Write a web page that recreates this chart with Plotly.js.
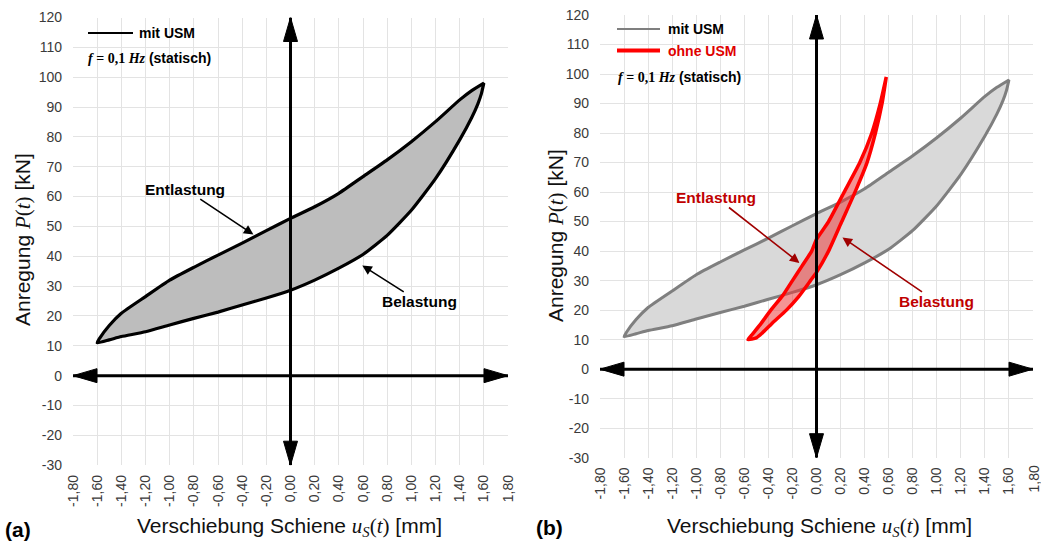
<!DOCTYPE html>
<html>
<head>
<meta charset="utf-8">
<script src="https://cdn.plot.ly/plotly-3.0.1.min.js"></script>
<style>
html,body{margin:0;padding:0;background:#fff;}
#chart{width:1041px;height:542px;}
</style>
</head>
<body>
<div id="chart"></div>
<script>
// ---- Data ----
// "mit USM" hysteresis loop: loading branch (Belastung) and unloading branch (Entlastung)
const usmLoadX   = [-1.60, -1.50, -1.40, -1.20, -1.00, -0.80, -0.60, -0.40, -0.20, 0.00, 0.20, 0.40, 0.60, 0.80, 1.00, 1.20, 1.40, 1.50, 1.55, 1.58, 1.60];
const usmLoadY   = [11.0, 12.0, 13.1, 14.7, 17.0, 19.2, 21.3, 23.7, 26.0, 28.6, 32.0, 36.0, 40.6, 47.0, 55.4, 66.0, 79.0, 86.5, 91.0, 94.5, 98.0];
const usmUnloadX = [1.60, 1.50, 1.40, 1.20, 1.00, 0.80, 0.60, 0.40, 0.20, 0.00, -0.20, -0.40, -0.60, -0.80, -1.00, -1.20, -1.40, -1.50, -1.58, -1.60];
const usmUnloadY = [98.0, 95.5, 92.4, 85.1, 78.4, 72.3, 66.7, 61.1, 56.6, 52.7, 48.6, 44.4, 40.4, 36.3, 32.0, 26.5, 20.9, 16.8, 12.5, 11.0];

// "ohne USM" hysteresis loop
const noUsmLoadX   = [-0.57, -0.50, -0.45, -0.37, -0.25, -0.15, -0.05, 0.00, 0.10, 0.21, 0.32, 0.42, 0.49, 0.545, 0.58];
const noUsmLoadY   = [10.0, 10.6, 12.3, 15.5, 20.0, 24.5, 30.0, 32.8, 40.0, 50.0, 60.0, 70.0, 80.0, 90.0, 99.0];
const noUsmUnloadX = [0.58, 0.53, 0.46, 0.36, 0.23, 0.10, 0.00, -0.04, -0.12, -0.20, -0.28, -0.38, -0.47, -0.54, -0.57];
const noUsmUnloadY = [99.0, 90.0, 80.0, 70.0, 60.0, 50.0, 44.0, 40.0, 35.0, 30.0, 25.0, 20.0, 15.0, 11.5, 10.0];

// Tick labels
const xTickVals = [-1.8, -1.6, -1.4, -1.2, -1.0, -0.8, -0.6, -0.4, -0.2, 0, 0.2, 0.4, 0.6, 0.8, 1.0, 1.2, 1.4, 1.6, 1.8];
const xTickText = ["-1,80", "-1,60", "-1,40", "-1,20", "-1,00", "-0,80", "-0,60", "-0,40", "-0,20", "0,00", "0,20", "0,40", "0,60", "0,80", "1,00", "1,20", "1,40", "1,60", "1,80"];
const yTickVals = [-30, -20, -10, 0, 10, 20, 30, 40, 50, 60, 70, 80, 90, 100, 110, 120];
const yTickText = ["-30", "-20", "-10", "0", "10", "20", "30", "40", "50", "60", "70", "80", "90", "100", "110", "120"];

const xRange = [-1.8, 1.8];
const yRange = [-30, 120];

// Text
const legendUSM = "mit USM";
const legendNoUSM = "ohne USM";
const freqText = '<span style="font-family:\'Liberation Serif\';font-weight:bold"><i>f</i> = 0,1 <i>Hz</i></span> <b>(statisch)</b>';
const yTitle = 'Anregung <span style="font-family:\'Liberation Serif\'"><i>P</i>(<i>t</i>)</span> [kN]';
const xTitle = 'Verschiebung Schiene <span style="font-family:\'Liberation Serif\'"><i>u</i><sub><i>S</i></sub>(<i>t</i>)</span> [mm]';

// ---- Layout helpers (pixel -> paper) ----
const W = 1041, H = 542;
const px = v => v / W;
const py = v => 1 - v / H;

const loopX = (a, b) => a.concat(b);
const loopY = (a, b) => a.concat(b);

const traces = [
  { x: loopX(usmLoadX, usmUnloadX), y: loopY(usmLoadY, usmUnloadY), xaxis: 'x', yaxis: 'y',
    mode: 'lines', fill: 'toself', fillcolor: '#bdbdbd',
    line: { color: '#000000', width: 3.2, shape: 'spline', smoothing: 0.5 }, showlegend: false, hoverinfo: 'skip' },
  { x: loopX(usmLoadX, usmUnloadX), y: loopY(usmLoadY, usmUnloadY), xaxis: 'x2', yaxis: 'y2',
    mode: 'lines', fill: 'toself', fillcolor: '#d9d9d9',
    line: { color: '#7f7f7f', width: 3, shape: 'spline', smoothing: 0.5 }, showlegend: false, hoverinfo: 'skip' },
  { x: loopX(noUsmLoadX, noUsmUnloadX), y: loopY(noUsmLoadY, noUsmUnloadY), xaxis: 'x2', yaxis: 'y2',
    mode: 'lines', fill: 'toself', fillcolor: 'rgba(235,60,60,0.55)',
    line: { color: '#ff0000', width: 3.5, shape: 'spline', smoothing: 0.5 }, showlegend: false, hoverinfo: 'skip' }
];

const tickFont = { family: 'Liberation Sans, Arial, sans-serif', size: 14, color: '#3a3a3a' };

// right panel: last x tick label is drawn as an annotation (it sits on the page edge)
const lastIdx = xTickText.length - 1;
const xTickText2 = xTickText.map((t, i) => (i === lastIdx ? '' : t));

function xAxis(dom, anchor, texts) {
  return { domain: dom, anchor: anchor, range: xRange, tickmode: 'array', tickvals: xTickVals, ticktext: texts,
    tickangle: -90, tickfont: tickFont, showgrid: true, gridcolor: '#e3e3e3', gridwidth: 1,
    zeroline: false, showline: false, ticks: '', ticklabelstandoff: 6, ticklabeloverflow: 'allow',
    fixedrange: true, automargin: false };
}
function yAxis(dom, anchor) {
  return { domain: dom, anchor: anchor, range: yRange, tickmode: 'array', tickvals: yTickVals, ticktext: yTickText,
    tickfont: tickFont, showgrid: true, gridcolor: '#e3e3e3', gridwidth: 1,
    zeroline: false, showline: false, ticks: '', ticklabelstandoff: 10, ticklabeloverflow: 'allow',
    fixedrange: true, automargin: false };
}

// axis arrow shapes for a given subplot
function axisArrows(xr, yr) {
  const s = [];
  const black = '#000000';
  s.push({ type: 'line', xref: xr, yref: yr, x0: xRange[0], x1: xRange[1], y0: 0, y1: 0, line: { color: black, width: 3 }, layer: 'above' });
  s.push({ type: 'line', xref: xr, yref: yr, x0: 0, x1: 0, y0: yRange[0], y1: yRange[1], line: { color: black, width: 3 }, layer: 'above' });
  const tri = (xa, ya, path) => ({ type: 'path', xref: xr, yref: yr, xsizemode: 'pixel', ysizemode: 'pixel',
    xanchor: xa, yanchor: ya, path: path, fillcolor: black, line: { color: black, width: 1 }, layer: 'above' });
  s.push(tri(xRange[1], 0, 'M0,0 L-24,7 L-24,-7 Z'));
  s.push(tri(xRange[0], 0, 'M0,0 L24,7 L24,-7 Z'));
  s.push(tri(0, yRange[1], 'M0,0 L-7,-24 L7,-24 Z'));
  s.push(tri(0, yRange[0], 'M0,0 L-7,24 L7,24 Z'));
  return s;
}

const shapes = [].concat(axisArrows('x', 'y'), axisArrows('x2', 'y2'), [
  { type: 'line', xref: 'paper', yref: 'paper', x0: px(88), x1: px(133), y0: py(33), y1: py(33), line: { color: '#000', width: 2 } },
  { type: 'line', xref: 'paper', yref: 'paper', x0: px(617), x1: px(660), y0: py(29), y1: py(29), line: { color: '#7f7f7f', width: 2 } },
  { type: 'line', xref: 'paper', yref: 'paper', x0: px(617), x1: px(660), y0: py(50.5), y1: py(50.5), line: { color: '#ff0000', width: 4 } }
]);

const sans = 'Liberation Sans, Arial, sans-serif';
const ann = (x, y, text, opts) => Object.assign({ xref: 'paper', yref: 'paper', x: px(x), y: py(y), text: text, showarrow: false,
  font: { family: sans, size: 14, color: '#000' }, xanchor: 'left', yanchor: 'middle' }, opts || {});

const annotations = [
  ann(137, 33, '<b>' + legendUSM + '</b>'),
  ann(86, 58, freqText, { font: { family: sans, size: 14, color: '#000' } }),
  ann(666, 29, '<b>' + legendUSM + '</b>'),
  ann(666, 51, '<b>' + legendNoUSM + '</b>', { font: { family: sans, size: 14, color: '#e00000' } }),
  ann(616, 77, freqText, { font: { family: sans, size: 14, color: '#000' } }),
  // last tick label of right panel
  { xref: 'x2', yref: 'paper', x: xTickVals[lastIdx], y: py(464), text: xTickText[lastIdx], showarrow: false,
    textangle: -90, xanchor: 'center', yanchor: 'top', font: tickFont },
  // axis titles
  ann(23, 240, yTitle, { xanchor: 'center', textangle: -90, font: { family: sans, size: 21, color: '#111' } }),
  ann(556, 236, yTitle, { xanchor: 'center', textangle: -90, font: { family: sans, size: 21, color: '#111' } }),
  ann(289, 527, xTitle, { xanchor: 'center', font: { family: sans, size: 21, color: '#111' } }),
  ann(819, 527, xTitle, { xanchor: 'center', font: { family: sans, size: 21, color: '#111' } }),
  ann(3, 529, '<b>(a)</b>', { font: { family: sans, size: 21, color: '#000' } }),
  ann(534, 527, '<b>(b)</b>', { font: { family: sans, size: 21, color: '#000' } }),
  // callouts
  { xref: 'x', yref: 'y', x: -0.30, y: 47.1, ax: -69, ay: -46, text: '<b>Entlastung</b>', showarrow: true,
    arrowhead: 2, arrowsize: 1.2, arrowwidth: 1.6, arrowcolor: '#000', font: { family: sans, size: 15.5, color: '#000' }, standoff: 1 },
  { xref: 'x', yref: 'y', x: 0.587, y: 37.1, ax: 58, ay: 37, text: '<b>Belastung</b>', showarrow: true,
    arrowhead: 2, arrowsize: 1.2, arrowwidth: 1.6, arrowcolor: '#000', font: { family: sans, size: 15.5, color: '#000' }, standoff: 1 },
  { xref: 'x2', yref: 'y2', x: -0.135, y: 35.8, ax: -84, ay: -66, text: '<b>Entlastung</b>', showarrow: true,
    arrowhead: 2, arrowsize: 1.2, arrowwidth: 1.6, arrowcolor: '#a00000', font: { family: sans, size: 15.5, color: '#c00000' }, standoff: 1 },
  { xref: 'x2', yref: 'y2', x: 0.209, y: 44.8, ax: 95, ay: 65, text: '<b>Belastung</b>', showarrow: true,
    arrowhead: 2, arrowsize: 1.2, arrowwidth: 1.6, arrowcolor: '#a00000', font: { family: sans, size: 15.5, color: '#c00000' }, standoff: 1 }
];

const layout = {
  width: W, height: H,
  margin: { l: 0, r: 0, t: 0, b: 0 },
  paper_bgcolor: '#ffffff', plot_bgcolor: '#ffffff',
  showlegend: false,
  xaxis: xAxis([px(73), px(508)], 'y', xTickText),
  yaxis: yAxis([py(465.2), py(17.5)], 'x'),
  xaxis2: xAxis([px(600), px(1033)], 'y2', xTickText2),
  yaxis2: yAxis([py(457.7), py(15)], 'x2'),
  shapes: shapes,
  annotations: annotations
};

Plotly.newPlot('chart', traces, layout, { staticPlot: true, displayModeBar: false });
</script>
</body>
</html>
